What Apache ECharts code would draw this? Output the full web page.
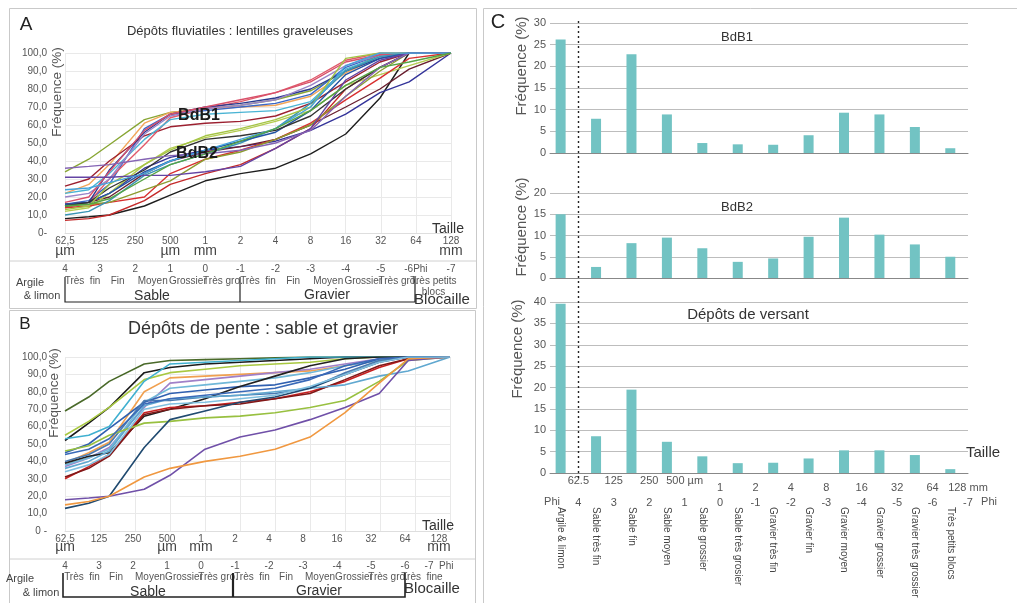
<!DOCTYPE html>
<html><head><meta charset="utf-8">
<script src="https://cdn.jsdelivr.net/npm/echarts@6/dist/echarts.min.js"></script>
<style>html,body{margin:0;padding:0;background:#fff}#c{width:1017px;height:603px}</style>
</head><body><div id="c"></div>
<script>
// ---------- DATA ----------
const sieveSizes = [62.5, 100, 150, 300, 500, 1000, 2000, 4000, 8000, 16000, 31500, 56000, 128000]; // µm
const tickLabels = ['62,5','125','250','500','1','2','4','8','16','32','64','128'];
const unitLabels = ['µm','','','µm','mm','','','','','','','mm'];
const phiLabelsA = ['4','3','2','1','0','-1','-2','-3','-4','-5','-6Phi','-7'];
const phiLabelsB = ['4','3','2','1','0','-1','-2','-3','-4','-5','-6','-7  Phi'];
const classLabelsA = ['Très  fin','Fin','Moyen','Grossier','Très gro.','Très  fin','Fin','Moyen','Grossier','Très gro.','Très petits\nblocs'];
const classLabelsB = ['Très  fin','Fin','Moyen','Grossier','Très gro.','Très  fin','Fin','Moyen','Grossier','Très gro.','Très  fine'];

// Panel A cumulative curves (% passing at each sieve size)
const curvesA = [
  [34, 41, 49, 63, 67, 69, 71, 74, 79, 90, 99, 100, 100],
  [22, 27, 38, 61, 67, 69, 70, 71, 76, 89, 98, 100, 100],
  [16, 18, 27, 58, 66, 68, 70, 72, 77, 92, 99, 100, 100],
  [26, 30, 40, 54, 59, 61, 62, 65, 72, 84, 95, 100, 100],
  [14, 17, 30, 49, 64, 69, 73, 78, 85, 96, 100, 100, 100],
  [15, 17, 35, 56, 66, 70, 72, 75, 80, 90, 97, 100, 100],
  [22, 24, 33, 52, 63, 66, 67, 68, 73, 91, 98, 100, 100],
  [20, 22, 30, 55, 65, 69, 71, 74, 82, 93, 99, 100, 100],
  [17, 20, 34, 57, 66, 70, 74, 78, 84, 95, 99, 100, 100],
  [8, 9, 10, 15, 21, 29, 33, 36, 44, 55, 75, 100, 100],
  [15, 17, 22, 36, 42, 46, 48, 51, 57, 66, 78, 84, 100],
  [16, 17, 20, 33, 40, 45, 48, 52, 60, 70, 80, 91, 100],
  [12, 14, 22, 38, 47, 53, 57, 62, 68, 82, 88, 93, 100],
  [14, 15, 17, 20, 33, 41, 46, 52, 61, 74, 86, 97, 100],
  [7, 8, 10, 18, 27, 33, 38, 47, 58, 80, 92, 100, 100],
  [15, 16, 17, 24, 29, 41, 45, 52, 60, 76, 90, 100, 100],
  [10, 12, 18, 32, 38, 44, 50, 58, 72, 90, 98, 100, 100],
  [16, 17, 22, 34, 40, 46, 51, 56, 68, 88, 97, 100, 100],
  [15, 17, 25, 35, 45, 52, 54, 57, 65, 80, 92, 100, 100],
  [13, 15, 27, 38, 46, 54, 58, 63, 70, 97, 100, 100, 100],
  [31, 31, 31, 32, 32, 34, 37, 47, 58, 85, 96, 100, 100],
  [36, 37, 38, 41, 43, 44, 46, 50, 57, 76, 92, 100, 100],
  [24, 25, 28, 33, 40, 46, 52, 58, 70, 93, 100, 100, 100],
  [15, 16, 19, 30, 38, 44, 51, 58, 68, 82, 92, 95, 100]
];
const colorsA = ['#88a634','#f2a65a','#3a68c8','#9c2030','#e05a6a','#2a3a90','#4ab4d4','#9a84c8','#d8506a',
  '#1e1e1e','#34349a','#6a2030','#b4cc50','#d83030','#c42a2a','#8c9c30','#3a94b4','#2454a4','#333333',
  '#a4c444','#6444a4','#8464b4','#44a4dc','#56a444'];

// Panel B cumulative curves
const curvesB = [
  [69, 77, 86, 96, 98, 98.5, 99, 99.5, 100, 100, 100, 100, 100],
  [52, 62, 71, 91, 94, 96, 97, 98, 99, 100, 100, 100, 100],
  [55, 63, 71, 87, 91, 93, 95, 96, 97, 99, 100, 100, 100],
  [53, 55, 60, 86, 96, 97, 98, 99, 100, 100, 100, 100, 100],
  [39, 45, 51, 80, 88, 89, 90, 91, 92, 95, 98, 100, 100],
  [37, 42, 48, 71, 85, 87, 89, 91, 93, 96, 99, 100, 100],
  [38, 42, 47, 74, 82, 84, 86, 88, 91, 95, 98, 100, 100],
  [45, 50, 59, 74, 79, 81, 83, 84, 88, 93, 99, 100, 100],
  [39, 43, 45, 66, 70, 76, 83, 89, 95, 99, 100, 100, 100],
  [30, 37, 44, 68, 71, 72, 74, 76, 80, 86, 94, 99, 100],
  [31, 36, 43, 67, 70, 72, 73, 76, 79, 87, 95, 99, 100],
  [40, 44, 50, 75, 75, 77, 78, 79, 82, 91, 98, 100, 100],
  [36, 40, 46, 72, 76, 77, 78, 80, 82, 84, 89, 92, 100],
  [46, 49, 55, 62, 63, 65, 66, 68, 71, 75, 86, 98, 100],
  [13, 16, 20, 48, 64, 69, 74, 77, 82, 90, 97, 100, 100],
  [18, 19, 20, 24, 32, 47, 54, 58, 64, 71, 79, 98, 100],
  [15, 17, 20, 31, 36, 40, 43, 47, 54, 68, 85, 99, 100],
  [44, 47, 53, 73, 76, 78, 80, 82, 87, 95, 99, 100, 100],
  [34, 38, 44, 70, 73, 74, 76, 78, 83, 90, 97, 100, 100]
];
const colorsB = ['#4a6a2a','#1a1a1a','#a8c840','#40b0d0','#f0a050','#a080c8','#70b8d8','#3060b0','#202020',
  '#c82020','#801818','#4a7ab0','#60a8d0','#98c040','#204a70','#7050a8','#f09840','#3a6ab8','#80c0e0'];

// Panel C frequency histograms
const classesC = ['Argile & limon','Sable très fin','Sable fin','Sable moyen','Sable grossier','Sable très grosier',
  'Gravier très fin','Gravier fin','Gravier moyen','Gravier grossier','Gravier très grossier','Très petits blocs'];
const sizeLabelsC = ['62.5','125','250','500 µm','1','2','4','8','16','32','64','128 mm'];
const phiLabelsC = ['4','3','2','1','0','-1','-2','-3','-4','-5','-6','-7'];
const bdb1 = [26.2, 7.9, 22.8, 8.9, 2.3, 2.0, 1.9, 4.1, 9.3, 8.9, 6.0, 1.1];
const bdb2 = [15.0, 2.6, 8.2, 9.5, 7.0, 3.8, 4.6, 9.7, 14.2, 10.2, 7.9, 5.0];
const versant = [39.6, 8.6, 19.5, 7.3, 3.9, 2.3, 2.4, 3.4, 5.3, 5.3, 4.2, 0.9];

// ---------- CHART ----------
const FONT = 'Liberation Sans';
const chart = echarts.init(document.getElementById('c'));

function near(v, t) { return Math.abs(v - t) < 1e-6; }
function atInt(labels, shift) {
  return function (v) {
    const k = v - shift, r = Math.round(k);
    return (near(k, r) && r >= 0 && r < labels.length) ? labels[r] : '';
  };
}
function labelAxis(grid, min, max, interval, fmt, margin, size, extra) {
  return {
    type: 'value', gridIndex: grid, min, max, interval, position: 'bottom',
    axisLine: { show: false }, axisTick: { show: false }, splitLine: { show: false },
    axisLabel: Object.assign({ margin, formatter: fmt, fontSize: size, color: '#555', fontFamily: FONT,
      showMinLabel: true, showMaxLabel: true, hideOverlap: false }, extra || {})
  };
}
const GRIDC = '#e9e9e9';
function curveAxis(grid) {
  return { type: 'value', gridIndex: grid, min: 0, max: 11, interval: 1,
    axisLine: { lineStyle: { color: '#dedede' } }, axisTick: { show: false },
    axisLabel: { show: false }, splitLine: { show: true, lineStyle: { color: GRIDC } } };
}
function curveY(grid, zeroLabel) {
  return { type: 'value', gridIndex: grid, min: 0, max: 100, interval: 10,
    axisLine: { show: false }, axisTick: { show: false },
    axisLabel: { margin: 18, fontSize: 10, color: '#555', fontFamily: FONT,
      formatter: v => v === 0 ? zeroLabel : v.toFixed(1).replace('.', ',') },
    splitLine: { show: true, lineStyle: { color: GRIDC } } };
}
const CMIN = -0.3, CMAX = 11.5;
function barX(grid) {
  return { type: 'value', gridIndex: grid, min: CMIN, max: CMAX, interval: 0.1,
    axisLine: { onZero: false, lineStyle: { color: '#888', width: 1 } }, axisTick: { show: false },
    axisLabel: { show: false }, splitLine: { show: false } };
}
function barY(grid, max) {
  return { type: 'value', gridIndex: grid, min: 0, max, interval: 5,
    axisLine: { show: false }, axisTick: { show: false },
    axisLabel: { margin: 4, fontSize: 11, color: '#555', fontFamily: FONT },
    splitLine: { show: true, lineStyle: { color: '#bdbdbd' } } };
}

const BMAX = 385 / 34; // label rows of panel B are slightly compressed

const xAxes = [
  curveAxis(0),                                                                  // 0 A lines
  labelAxis(0, 0, 11, 1, atInt(tickLabels, 0), 3, 10),                           // 1
  labelAxis(0, 0, 11, 1, atInt(unitLabels, 0), 11, 14, { color: '#444' }),      // 2
  labelAxis(0, 0, 11, 1, atInt(phiLabelsA, 0), 31, 10),                          // 3
  labelAxis(0, 0, 11, 0.5, atInt(classLabelsA, 0.5), 43, 10, { lineHeight: 11 }),// 4
  curveAxis(1),                                                                  // 5 B lines
  labelAxis(1, 0, BMAX, 1, atInt(tickLabels, 0), 3, 10),                         // 6
  labelAxis(1, 0, BMAX, 1, atInt(unitLabels, 0), 9, 14, { color: '#444' }),      // 7
  labelAxis(1, 0, BMAX, 1, atInt(phiLabelsB, 0), 30, 10),                        // 8
  labelAxis(1, 0, BMAX, 0.5, atInt(classLabelsB, 0.5), 41, 10),                  // 9
  barX(2), barX(3), barX(4),                                                     // 10,11,12
  labelAxis(4, CMIN, CMAX, 0.1, atInt(sizeLabelsC.slice(0, 4), 0.5), 2, 11),     // 13
  labelAxis(4, CMIN, CMAX, 0.1, atInt(['', '', '', ''].concat(sizeLabelsC.slice(4)), 0.5), 9, 11), // 14
  labelAxis(4, CMIN, CMAX, 0.1, atInt(phiLabelsC, 0.5), 24, 11),                 // 15
  labelAxis(4, CMIN, CMAX, 0.1, atInt(classesC, 0), 34, 10, { rotate: -90, color: '#444' }) // 16
];
const yAxes = [curveY(0, '0-'), curveY(1, '0 -'), barY(2, 30), barY(3, 20), barY(4, 40)];

const series = [];
function curve(vals, color, xi, yi, w) {
  series.push({ type: 'line', xAxisIndex: xi, yAxisIndex: yi, symbol: 'none', silent: true, animation: false,
    data: sieveSizes.map((s, k) => [Math.log2(s / 62.5), vals[k]]),
    lineStyle: { width: w, color: color }, itemStyle: { color: color } });
}
curvesA.forEach((c, i) => curve(c, colorsA[i], 0, 0, 1.4));
curvesB.forEach((c, i) => curve(c, colorsB[i], 5, 1, 1.6));
function bars(vals, xi, yi) {
  series.push({ type: 'bar', xAxisIndex: xi, yAxisIndex: yi, barWidth: 10, silent: true, animation: false,
    data: vals.map((v, i) => [i, v]), itemStyle: { color: '#72c3c3' } });
}
bars(bdb1, 10, 2); bars(bdb2, 11, 3); bars(versant, 12, 4);

function txt(x, y, text, size, o) {
  o = o || {};
  return { type: 'text', x, y, rotation: o.rot || 0, z: 100, silent: true,
    style: { text, fontSize: size, fill: o.color || '#444', fontWeight: o.weight || 'normal', fontFamily: FONT,
      align: o.align || 'center', verticalAlign: 'middle', lineHeight: o.lh || size } };
}
function poly(points, w, color, dash) {
  return { type: 'polyline', z: 100, silent: true, shape: { points },
    style: { stroke: color, lineWidth: w, fill: null, lineDash: dash || null } };
}
function box(x, y, w, h) {
  return { type: 'rect', z: 1, silent: true, shape: { x, y, width: w, height: h },
    style: { stroke: '#c9c9c9', lineWidth: 1, fill: 'rgba(0,0,0,0)' } };
}
const R = Math.PI / 2;
const graphic = [
  box(9.5, 8.5, 467, 300), poly([[10, 261], [476, 261]], 1, '#d0d0d0'),
  box(9.5, 310.5, 466, 300), poly([[10, 559], [475, 559]], 1, '#d0d0d0'),
  box(483.5, 8.5, 540, 600),
  txt(26, 25, 'A', 19, { color: '#222' }),
  txt(25, 324, 'B', 17, { color: '#222' }),
  txt(498, 22, 'C', 20, { color: '#222' }),
  txt(240, 31, 'Dépôts fluviatiles : lentilles graveleuses', 13, { color: '#333' }),
  txt(263, 329, 'Dépôts de pente : sable et gravier', 18, { color: '#333' }),
  txt(57, 92, 'Fréquence (%)', 13.5, { rot: R, color: '#555' }),
  txt(54, 393, 'Fréquence (%)', 13.5, { rot: R, color: '#555' }),
  txt(199, 116, 'BdB1', 16, { weight: 'bold', color: '#1a1a1a' }),
  txt(197, 154, 'BdB2', 16, { weight: 'bold', color: '#1a1a1a' }),
  txt(448, 229, 'Taille', 14, { color: '#333' }),
  txt(438, 526, 'Taille', 14, { color: '#333' }),
  txt(30, 283, 'Argile', 11), txt(42, 296, '& limon', 11),
  txt(20, 579, 'Argile', 11), txt(41, 593, '& limon', 11),
  txt(152, 296, 'Sable', 14, { color: '#333' }), txt(327, 295, 'Gravier', 14, { color: '#333' }),
  txt(442, 300, 'Blocaille', 15, { color: '#333' }),
  txt(148, 592, 'Sable', 14, { color: '#333' }), txt(319, 591, 'Gravier', 14, { color: '#333' }),
  txt(432, 589, 'Blocaille', 15, { color: '#333' }),
  poly([[65, 277], [65, 302], [415, 302], [415, 277]], 1.2, '#222'),
  poly([[240, 277], [240, 302]], 1.2, '#222'),
  poly([[63, 573], [63, 597], [405, 597], [405, 573]], 1.6, '#222'),
  poly([[233, 573], [233, 597]], 2.2, '#222'),
  txt(522, 66, 'Fréquence (%)', 15, { rot: R, color: '#555' }),
  txt(522, 227, 'Fréquence (%)', 15, { rot: R, color: '#555' }),
  txt(518, 349, 'Fréquence (%)', 15, { rot: R, color: '#555' }),
  txt(737, 37, 'BdB1', 13, { color: '#333' }),
  txt(737, 207, 'BdB2', 13, { color: '#333' }),
  txt(748, 315, 'Dépôts de versant', 15, { color: '#333' }),
  txt(983, 453, 'Taille', 15, { color: '#333' }),
  txt(552, 502, 'Phi', 11, { color: '#555' }),
  txt(989, 502, 'Phi', 11, { color: '#555' }),
  poly([[578.5, 21], [578.5, 478]], 1.4, '#222', [2, 3])
];

const G = { outerBoundsMode: 'none', containLabel: false };
chart.setOption({
  animation: false,
  backgroundColor: '#fff',
  textStyle: { fontFamily: FONT },
  grid: [
    Object.assign({ left: 65, top: 53, width: 386, height: 180 }, G),
    Object.assign({ left: 65, top: 357, width: 385, height: 174 }, G),
    Object.assign({ left: 550, top: 23, width: 418, height: 130 }, G),
    Object.assign({ left: 550, top: 193, width: 418, height: 85 }, G),
    Object.assign({ left: 550, top: 302, width: 418, height: 171 }, G)
  ],
  xAxis: xAxes,
  yAxis: yAxes,
  series: series,
  graphic: graphic
});
</script></body></html>
